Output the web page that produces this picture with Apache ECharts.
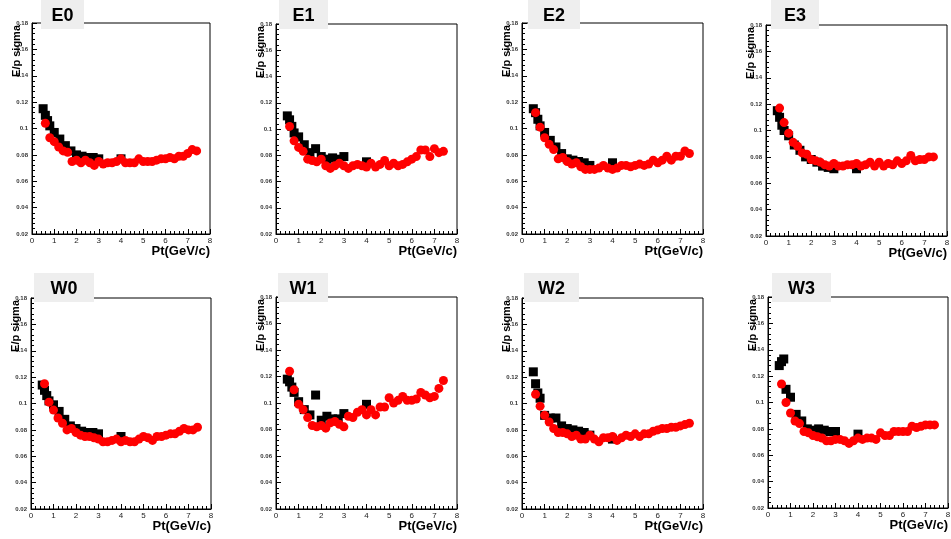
<!DOCTYPE html>
<html><head><meta charset="utf-8">
<script src="https://cdn.jsdelivr.net/npm/echarts@6/dist/echarts.min.js"></script>
<style>html,body{margin:0;padding:0;background:#fff}#c{width:951px;height:539px}</style>
</head><body><div id="c"></div>
<script>
// ---------- data ----------
const panelNames = ['E0', 'E1', 'E2', 'E3', 'W0', 'W1', 'W2', 'W3'];
const xAxisTitle = 'Pt(GeV/c)';
const yAxisTitle = 'E/p sigma';
const xTickLabels = ['0', '1', '2', '3', '4', '5', '6', '7', '8'];
const yTickLabels = ['0.02', '0.04', '0.06', '0.08', '0.1', '0.12', '0.14', '0.16', '0.18'];

const blackPt = [0.5, 0.6, 0.7, 0.8, 1.0, 1.25, 1.5, 1.75, 2.0, 2.25, 2.5, 2.75, 3.0, 4.0];
const redPt = [0.6, 0.8, 1.0, 1.2, 1.4, 1.6, 1.8, 2.0, 2.2, 2.4, 2.6, 2.8, 3.0, 3.2, 3.4, 3.6, 3.8, 4.0,
  4.2, 4.4, 4.6, 4.8, 5.0, 5.2, 5.4, 5.6, 5.8, 6.0, 6.2, 6.4, 6.6, 6.8, 7.0, 7.2, 7.4];

const E0_black = [0.115, 0.110, 0.106, 0.102, 0.097, 0.092, 0.087, 0.083, 0.080, 0.079, 0.078, 0.078, 0.077, 0.077];
const E0_red = [0.104, 0.093, 0.090, 0.086, 0.083, 0.082, 0.075, 0.076, 0.074, 0.076, 0.074, 0.072, 0.075, 0.073,
  0.074, 0.074, 0.075, 0.077, 0.074, 0.074, 0.074, 0.077, 0.075, 0.075, 0.075, 0.076, 0.077, 0.077, 0.078, 0.077,
  0.079, 0.079, 0.081, 0.084, 0.083];

const E1_black = [0.110, 0.107, 0.102, 0.097, 0.094, 0.088, 0.082, 0.085, 0.079, 0.077, 0.078, 0.077, 0.079, 0.075];
const E1_red = [0.102, 0.091, 0.086, 0.083, 0.077, 0.076, 0.075, 0.077, 0.072, 0.070, 0.072, 0.074, 0.072, 0.070,
  0.072, 0.073, 0.072, 0.071, 0.074, 0.071, 0.073, 0.076, 0.072, 0.074, 0.072, 0.073, 0.075, 0.077, 0.079, 0.084,
  0.084, 0.079, 0.085, 0.082, 0.083];

const E2_black = [0.115, 0.112, 0.107, 0.102, 0.097, 0.091, 0.086, 0.081, 0.077, 0.076, 0.075, 0.074, 0.072, 0.074];
const E2_red = [0.112, 0.101, 0.093, 0.088, 0.084, 0.077, 0.078, 0.075, 0.073, 0.074, 0.071, 0.069, 0.069, 0.069,
  0.070, 0.072, 0.070, 0.069, 0.070, 0.072, 0.072, 0.071, 0.072, 0.073, 0.072, 0.073, 0.076, 0.074, 0.076, 0.079,
  0.076, 0.079, 0.079, 0.083, 0.081];

const E3_black = [0.115, 0.110, 0.104, 0.100, 0.096, 0.089, 0.085, 0.080, 0.078, 0.076, 0.073, 0.072, 0.071, 0.071];
const E3_red = [0.117, 0.106, 0.098, 0.091, 0.088, 0.083, 0.082, 0.078, 0.077, 0.076, 0.074, 0.073, 0.075, 0.073,
  0.073, 0.074, 0.074, 0.075, 0.073, 0.074, 0.076, 0.073, 0.076, 0.073, 0.075, 0.074, 0.077, 0.075, 0.077, 0.081,
  0.077, 0.078, 0.078, 0.080, 0.080];

const W0_black = [0.114, 0.110, 0.106, 0.102, 0.099, 0.094, 0.088, 0.083, 0.081, 0.079, 0.078, 0.078, 0.077, 0.075];
const W0_red = [0.115, 0.101, 0.095, 0.089, 0.085, 0.080, 0.081, 0.078, 0.076, 0.075, 0.075, 0.074, 0.073, 0.071,
  0.071, 0.072, 0.073, 0.071, 0.072, 0.071, 0.071, 0.073, 0.075, 0.074, 0.072, 0.075, 0.075, 0.076, 0.077, 0.077,
  0.079, 0.081, 0.080, 0.080, 0.082];

const W1_black = [0.118, 0.116, 0.112, 0.108, 0.101, 0.095, 0.091, 0.106, 0.087, 0.090, 0.088, 0.088, 0.092, 0.099];
const W1_red = [0.124, 0.110, 0.099, 0.095, 0.089, 0.083, 0.082, 0.083, 0.081, 0.085, 0.086, 0.084, 0.082, 0.090,
  0.089, 0.093, 0.095, 0.091, 0.095, 0.091, 0.097, 0.097, 0.104, 0.100, 0.102, 0.105, 0.102, 0.102, 0.103, 0.108,
  0.106, 0.104, 0.105, 0.111, 0.117];

const W2_black = [0.124, 0.115, 0.108, 0.104, 0.091, 0.089, 0.089, 0.083, 0.081, 0.080, 0.079, 0.078, 0.076, 0.073];
const W2_red = [0.107, 0.098, 0.091, 0.086, 0.081, 0.078, 0.078, 0.077, 0.075, 0.076, 0.073, 0.073, 0.076, 0.073,
  0.071, 0.074, 0.074, 0.075, 0.072, 0.074, 0.076, 0.075, 0.077, 0.075, 0.077, 0.077, 0.079, 0.080, 0.081, 0.081,
  0.082, 0.082, 0.083, 0.084, 0.085];

const W3_black = [0.128, 0.131, 0.133, 0.110, 0.104, 0.091, 0.086, 0.080, 0.079, 0.080, 0.079, 0.078, 0.078, 0.076];
const W3_red = [0.114, 0.100, 0.092, 0.086, 0.084, 0.078, 0.077, 0.075, 0.074, 0.073, 0.071, 0.071, 0.072, 0.072,
  0.071, 0.069, 0.071, 0.073, 0.072, 0.073, 0.073, 0.072, 0.077, 0.075, 0.075, 0.078, 0.078, 0.078, 0.078, 0.082,
  0.081, 0.082, 0.083, 0.083, 0.083];

const blackSets = [E0_black, E1_black, E2_black, E3_black, W0_black, W1_black, W2_black, W3_black];
const redSets = [E0_red, E1_red, E2_red, E3_red, W0_red, W1_red, W2_red, W3_red];

// ---------- layout (pixels) ----------
// plot frames: [left, top, right, bottom]
const frames = [
  [32, 23, 210, 234], [276, 24, 457, 234], [522, 23, 703, 234], [766, 25, 947, 236],
  [31, 298, 211, 509], [276, 297, 457, 509], [522, 298, 703, 509], [768, 297, 948, 508]
];
// title boxes: [left, top, width]
const titleBoxes = [
  [41, 0, 43], [279, 0, 49], [528, 0, 52], [771, 0, 48],
  [34, 273, 60], [278, 273, 50], [524, 273, 55], [772, 273, 59]
];

const FONT = '"Liberation Sans", Arial, Helvetica, sans-serif';
const mctx = document.createElement('canvas').getContext('2d');
mctx.font = 'bold 18px ' + FONT;

const chart = echarts.init(document.getElementById('c'), null, { renderer: 'canvas' });
const grids = [], xAxes = [], yAxes = [], series = [], titles = [], graphics = [];

panelNames.forEach((name, i) => {
  const f = frames[i];
  grids.push({
    left: f[0], top: f[1], width: f[2] - f[0], height: f[3] - f[1],
    show: true, borderColor: '#000', borderWidth: 1, backgroundColor: 'transparent',
    containLabel: false, outerBoundsMode: 'none'
  });
  xAxes.push({
    type: 'value', gridIndex: i, min: 0, max: 8, interval: 1,
    axisLine: { show: true, onZero: false, lineStyle: { color: '#000', width: 1 } },
    axisTick: { show: true, inside: true, length: 5, lineStyle: { color: '#000', width: 1 } },
    minorTick: { show: true, splitNumber: 5, length: 3, lineStyle: { color: '#000', width: 1 } },
    splitLine: { show: false }, minorSplitLine: { show: false },
    axisLabel: { show: true, margin: 3, fontFamily: FONT, fontSize: 8, color: '#222',
      formatter: v => xTickLabels[Math.round(v)] }
  });
  yAxes.push({
    type: 'value', gridIndex: i, min: 0.02, max: 0.18, interval: 0.02,
    axisLine: { show: true, onZero: false, lineStyle: { color: '#000', width: 1 } },
    axisTick: { show: true, inside: true, length: 5, lineStyle: { color: '#000', width: 1 } },
    minorTick: { show: true, splitNumber: 5, length: 3, lineStyle: { color: '#000', width: 1 } },
    splitLine: { show: false }, minorSplitLine: { show: false },
    axisLabel: { show: true, margin: 4, fontFamily: FONT, fontSize: 6, fontWeight: 'bold', color: '#333',
      formatter: v => yTickLabels[Math.round((v - 0.02) / 0.02)] }
  });
  series.push({
    type: 'scatter', xAxisIndex: i, yAxisIndex: i, symbol: 'rect', symbolSize: 9,
    itemStyle: { color: '#000', opacity: 1 }, z: 2, silent: true,
    data: blackPt.map((x, k) => [x, blackSets[i][k]])
  });
  series.push({
    type: 'scatter', xAxisIndex: i, yAxisIndex: i, symbol: 'circle', symbolSize: 9,
    itemStyle: { color: '#ff0000', opacity: 1 }, z: 3, silent: true,
    data: redPt.map((x, k) => [x, redSets[i][k]])
  });
  const tb = titleBoxes[i];
  const tw = mctx.measureText(name).width;
  const ph = Math.max(0, (tb[2] - tw) / 2);
  titles.push({
    text: name, left: tb[0], top: tb[1],
    padding: [7, ph, 4, ph], backgroundColor: '#eeeeee',
    textStyle: { fontFamily: FONT, fontWeight: 'bold', fontSize: 18, lineHeight: 18, color: '#000' }
  });
  // axis titles
  graphics.push({
    type: 'text', x: f[2], y: f[3] + 11, z: 10, silent: true,
    style: { text: xAxisTitle, font: 'bold 13px ' + FONT, fill: '#000',
      align: 'right', verticalAlign: 'top', textAlign: 'right', textVerticalAlign: 'top' }
  });
  graphics.push({
    type: 'text', x: f[0] - 15, y: f[1] + 2, rotation: Math.PI / 2, z: 10, silent: true,
    style: { text: yAxisTitle, font: 'bold 11px ' + FONT, fill: '#000',
      align: 'right', verticalAlign: 'middle', textAlign: 'right', textVerticalAlign: 'middle' }
  });
});

chart.setOption({
  animation: false,
  backgroundColor: '#fff',
  title: titles,
  grid: grids, xAxis: xAxes, yAxis: yAxes, series: series,
  graphic: { elements: graphics }
});
</script>
</body></html>
